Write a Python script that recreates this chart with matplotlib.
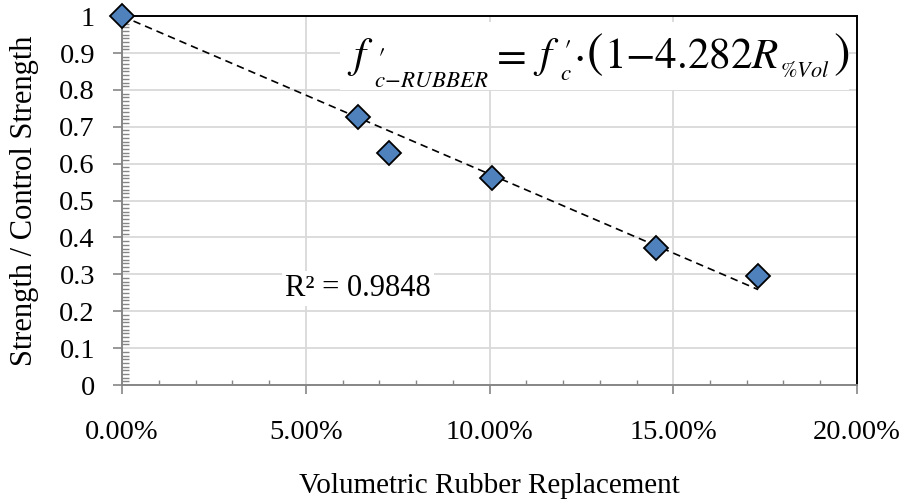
import numpy as np
import matplotlib.pyplot as plt
from matplotlib.patches import Rectangle
from matplotlib.ticker import MultipleLocator, PercentFormatter

plt.rcParams.update({
    'font.family': 'Liberation Serif',
    'mathtext.fontset': 'stix',
    'font.size': 20.5,
})

# data
rubber_vol = [0.0, 0.0642, 0.0727, 0.1007, 0.1453, 0.1731]
strength_ratio = [1.0, 0.726, 0.629, 0.561, 0.371, 0.295]

# linear trendline (intercept fixed at 1)
slope = -4.282
intercept = 1.0
r2_text = 'R² = 0.9848'

marker_blue = '#4F81BD'
axis_gray = '#868686'
grid_gray = '#d9d9d9'

fig = plt.figure(figsize=(9.04, 5.04), dpi=100)
ax = fig.add_axes([0.135, 0.236, 0.813, 0.732])

x_fit = np.array([0.0, max(rubber_vol)])
ax.plot(x_fit, intercept + slope * x_fit, '--', color='black', lw=1.2,
        dashes=(4.5, 3), zorder=3)
ax.plot(rubber_vol, strength_ratio, 'D', ms=12, mfc=marker_blue,
        mec='black', mew=1.3, zorder=4, clip_on=False)

ax.set_xlim(0, 0.2)
ax.set_ylim(0, 1)
ax.xaxis.set_major_locator(MultipleLocator(0.05))
ax.xaxis.set_minor_locator(MultipleLocator(0.01))
ax.yaxis.set_minor_locator(MultipleLocator(0.01))
ax.xaxis.set_major_formatter(PercentFormatter(1.0, decimals=2))
ax.set_yticks(np.arange(0, 1.01, 0.1))
ax.set_yticklabels(['0', '0.1', '0.2', '0.3', '0.4', '0.5', '0.6', '0.7',
                    '0.8', '0.9', '1'])

ax.grid(True, which='major', color=grid_gray, lw=1.3)
ax.set_axisbelow(True)

ax.tick_params(which='major', direction='out', length=6.5, width=1.2,
               color=axis_gray)
ax.tick_params(axis='y', which='major', pad=13)
ax.tick_params(axis='x', which='major', pad=19)
ax.tick_params(axis='y', which='minor', direction='in', length=5, width=1.0,
               color=axis_gray)
ax.tick_params(axis='x', which='minor', direction='in', length=3.5,
               width=1.0, color=axis_gray)

for side in ['left', 'bottom']:
    ax.spines[side].set_color(axis_gray)
    ax.spines[side].set_linewidth(1.4)
for side in ['top', 'right']:
    ax.spines[side].set_color('black')
    ax.spines[side].set_linewidth(1.4)

ax.set_xlabel('Volumetric Rubber Replacement', fontsize=21, va='top')
ax.xaxis.set_label_coords(0.5, -0.239)
ax.set_ylabel('Strength / Control Strength', fontsize=22)
ax.yaxis.set_label_coords(-0.113, 0.5)

# white panel behind the trendline equation
ax.add_patch(Rectangle((0.297, 0.80), 0.692, 0.184, transform=ax.transAxes,
                       facecolor='white', edgecolor='none', zorder=1))

# trendline equation, built from pieces so the subscripts stay small
M = 31
base = 0.862
renderer = fig.canvas.get_renderer()
to_axes = ax.transAxes.inverted()


def put(s, x, y, size, va='baseline'):
    return ax.text(x, y, s, transform=ax.transAxes, fontsize=size,
                   ha='left', va=va, zorder=6)


def after(t):
    # axes-x just right of a text's box
    bb = t.get_window_extent(renderer)
    return to_axes.transform((bb.x1 + 1, 0))[0]


def above(t):
    # axes-y just over a text's box
    bb = t.get_window_extent(renderer)
    return to_axes.transform((0, bb.y1 + 1))[1]


def nxt(prev, x):
    return max(x, after(prev))


f1 = put(r'$f$', 0.306, base, M)
x1 = after(f1)
sub1 = put(r'$c\!-\!RUBBER$', x1, 0.808, 16.5)
put(r'$\prime$', x1 + 0.003, max(0.918, above(sub1)), 20, 'top')
eq = put(r'$=$', nxt(sub1, 0.500), base, M)
f2 = put(r'$f$', max(0.556, after(eq) + 0.008), base, M)
x2 = after(f2)
c2 = put(r'$c$', x2, 0.826, 16.5)
put(r'$\prime$', x2 + 0.003, above(c2), 20, 'bottom')
dot = put(r'$\cdot$', nxt(c2, 0.614), base, M)
lp = put(r'$($', nxt(dot, 0.631), base, 36)
body = put(r'$1{-}4.282R$', nxt(lp, 0.650), base, M)
sub3 = put(r'$\%Vol$', nxt(body, 0.887), 0.835, 16)
put(r'$)$', nxt(sub3, 0.967), base, 36)

ax.text(0.321, 0.241, r2_text, transform=ax.transAxes, ha='center',
        va='baseline', fontsize=22, zorder=5,
        bbox=dict(facecolor='white', edgecolor='none', pad=2))

fig.savefig('out.png', dpi=100)
